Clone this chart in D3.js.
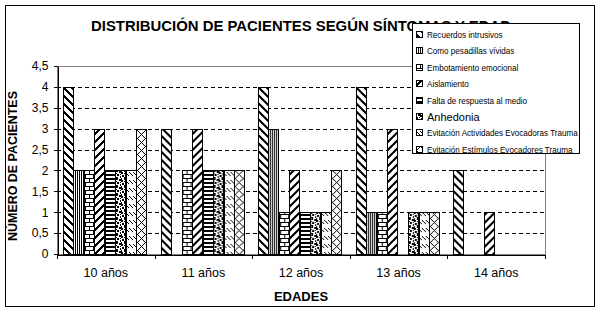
<!DOCTYPE html>
<html>
<head>
<meta charset="utf-8">
<script src="https://cdn.jsdelivr.net/npm/d3@7/dist/d3.min.js"></script>
<style>
  body { margin: 0; background: #fff; }
  svg { display: block; font-family: "Liberation Sans", Arial, sans-serif; }
</style>
</head>
<body>
<div id="chart"></div>
<script>
// Data
const ages = ['10 años', '11 años', '12 años', '13 años', '14 años'];
const symptoms = [
  'Recuerdos intrusivos',
  'Como pesadillas vívidas',
  'Embotamiento emocional',
  'Aislamiento',
  'Falta de respuesta al medio',
  'Anhedonia',
  'Evitación Actividades Evocadoras Trauma',
  'Evitación Estímulos Evocadores Trauma'
];
const recuerdos = [4, 3, 4, 4, 2];
const pesadillas = [2, 0, 3, 1, 0];
const embotamiento = [2, 2, 1, 1, 0];
const aislamiento = [3, 3, 2, 3, 1];
const faltaRespuesta = [2, 2, 1, 0, 0];
const anhedonia = [2, 2, 1, 1, 0];
const evitActividades = [2, 2, 1, 1, 0];
const evitEstimulos = [3, 2, 2, 1, 0];
const yTicks = [0, 0.5, 1, 1.5, 2, 2.5, 3, 3.5, 4, 4.5];

const seriesValues = [recuerdos, pesadillas, embotamiento, aislamiento,
  faltaRespuesta, anhedonia, evitActividades, evitEstimulos];

// 8x8 monochrome fill patterns, one per series
const bitmaps = [
  ['###.....', '.###....', '..###...', '...###..', '....###.', '.....###', '#.....##', '##.....#'],
  ['#.#.#.#.', '#.#.#.#.', '#.#.#.#.', '#.#.#.#.', '#.#.#.#.', '#.#.#.#.', '#.#.#.#.', '#.#.#.#.'],
  ['########', '#.......', '#.......', '#.......', '########', '....#...', '....#...', '....#...'],
  ['###.....', '##.....#', '#.....##', '.....###', '....###.', '...###..', '..###...', '.###....'],
  ['########', '########', '........', '........', '########', '########', '........', '........'],
  ['#..##...', '#..##.##', '##....##', '##.#....', '....##.#', '.##.##..', '.##....#', '...##..#'],
  ['........', '........', '#...#...', '.#...#..', '..#...#.', '...#...#', '........', '........'],
  ['#.......', '.#.....#', '..#...#.', '...#.#..', '....#...', '...#.#..', '..#...#.', '.#.....#']
];

const W = 600, H = 312;
const margin = { top: 66, right: 55, bottom: 58, left: 57 };
const width = W - margin.left - margin.right;
const height = H - margin.top - margin.bottom;

const svg = d3.select('#chart')
  .append('svg')
  .attr('width', W)
  .attr('height', H);

// Patterns
const defs = svg.append('defs');
bitmaps.forEach((rows, i) => {
  const p = defs.append('pattern')
    .attr('id', 'pat' + i)
    .attr('patternUnits', 'userSpaceOnUse')
    .attr('width', 8)
    .attr('height', 8);
  p.append('rect').attr('width', 8).attr('height', 8).attr('fill', '#fff');
  rows.forEach((row, r) => {
    row.split('').forEach((ch, c) => {
      if (ch === '#') {
        p.append('rect').attr('x', c).attr('y', r).attr('width', 1).attr('height', 1).attr('fill', '#000');
      }
    });
  });
});

// Outer chart border
svg.append('rect')
  .attr('x', 5.5)
  .attr('y', 5.5)
  .attr('width', 589)
  .attr('height', 301)
  .attr('fill', '#fff')
  .attr('stroke', '#000')
  .attr('stroke-width', 1);

const g = svg.append('g')
  .attr('transform', `translate(${margin.left},${margin.top})`);

// Scales
const x0 = d3.scaleBand()
  .domain(ages)
  .range([0, width])
  .padding(0);

const bw = x0.bandwidth();
const x1 = d3.scaleBand()
  .domain(symptoms)
  .range([bw * 0.06, bw * 0.92]);

const y = d3.scaleLinear()
  .domain([0, 4.5])
  .range([height, 0]);

// Dashed gridlines
g.selectAll('.grid')
  .data(yTicks.filter(t => t > 0 && t < 4.5))
  .join('line')
  .attr('class', 'grid')
  .attr('x1', 0)
  .attr('x2', width)
  .attr('y1', d => Math.round(y(d)) + 0.5)
  .attr('y2', d => Math.round(y(d)) + 0.5)
  .attr('stroke', '#000')
  .attr('stroke-dasharray', '4,3')
  .attr('shape-rendering', 'crispEdges');

// Plot area border (grey)
g.append('rect')
  .attr('x', 0.5)
  .attr('y', Math.round(y(4.5)) + 0.5)
  .attr('width', width)
  .attr('height', Math.round(y(0)) - Math.round(y(4.5)))
  .attr('fill', 'none')
  .attr('stroke', '#808080')
  .attr('shape-rendering', 'crispEdges');

// Bars
const groups = g.selectAll('.age')
  .data(ages)
  .join('g')
  .attr('class', 'age')
  .attr('transform', d => `translate(${x0(d)},0)`);

groups.selectAll('rect')
  .data((d, gi) => symptoms.map((s, si) => ({ s, si, v: seriesValues[si][gi] })).filter(b => b.v > 0))
  .join('rect')
  .attr('x', d => Math.round(x1(d.s)) + 0.5)
  .attr('y', d => Math.round(y(d.v)) + 0.5)
  .attr('width', Math.round(x1.bandwidth()))
  .attr('height', d => Math.round(y(0)) - Math.round(y(d.v)))
  .attr('fill', d => `url(#pat${d.si})`)
  .attr('stroke', '#000')
  .attr('shape-rendering', 'crispEdges');

// Y axis
const yAxis = g.append('g')
  .attr('transform', 'translate(0.5,0)')
  .call(d3.axisLeft(y).tickValues(yTicks).tickSize(4).tickSizeOuter(0)
    .tickFormat(d => String(d).replace('.', ',')));
yAxis.selectAll('text')
  .attr('x', -9)
  .style('font-size', '12px')
  .style('font-family', '"Liberation Sans", Arial, sans-serif');
yAxis.selectAll('line, path').attr('shape-rendering', 'crispEdges');

// X axis: line, ticks at category boundaries, centred labels
const xAxis = g.append('g')
  .attr('transform', `translate(0,${Math.round(y(0)) + 0.5})`)
  .call(d3.axisBottom(x0).tickSize(0).tickSizeOuter(0));
xAxis.select('.domain').attr('stroke', '#000').attr('shape-rendering', 'crispEdges');
xAxis.selectAll('text')
  .attr('dy', '1.55em')
  .style('font-size', '12.5px')
  .style('font-family', '"Liberation Sans", Arial, sans-serif');

xAxis.selectAll('.bound')
  .data(ages.concat(['end']))
  .join('line')
  .attr('class', 'bound')
  .attr('x1', d => Math.round(d === 'end' ? width : x0(d)) + 0.5)
  .attr('x2', d => Math.round(d === 'end' ? width : x0(d)) + 0.5)
  .attr('y1', 0)
  .attr('y2', 4)
  .attr('stroke', '#000')
  .attr('shape-rendering', 'crispEdges');

// Axis titles
svg.append('text')
  .attr('x', 301)
  .attr('y', 31)
  .attr('text-anchor', 'middle')
  .attr('textLength', 420)
  .attr('lengthAdjust', 'spacingAndGlyphs')
  .style('font-size', '14px')
  .style('font-weight', 'bold')
  .text('DISTRIBUCIÓN DE PACIENTES SEGÚN SÍNTOMAS Y EDAD');

svg.append('text')
  .attr('transform', 'translate(17,166) rotate(-90)')
  .attr('text-anchor', 'middle')
  .attr('textLength', 150)
  .attr('lengthAdjust', 'spacingAndGlyphs')
  .style('font-size', '13px')
  .style('font-weight', 'bold')
  .text('NÚMERO DE PACIENTES');

svg.append('text')
  .attr('x', margin.left + width / 2)
  .attr('y', 301)
  .attr('text-anchor', 'middle')
  .style('font-size', '13px')
  .style('font-weight', 'bold')
  .text('EDADES');

// Legend (sits on top of the end of the title, as in the original)
const legend = svg.append('g')
  .attr('transform', 'translate(412,23)');

legend.append('rect')
  .attr('x', 0.5)
  .attr('y', 0.5)
  .attr('width', 167)
  .attr('height', 130)
  .attr('fill', '#fff')
  .attr('stroke', '#000')
  .attr('shape-rendering', 'crispEdges');

const item = legend.selectAll('.item')
  .data(symptoms)
  .join('g')
  .attr('class', 'item')
  .attr('transform', (d, i) => `translate(0,${Math.round(8 + i * 16.4)})`);

item.append('rect')
  .attr('x', 4.5)
  .attr('y', 0.5)
  .attr('width', 6)
  .attr('height', 6)
  .attr('fill', (d, i) => `url(#pat${i})`)
  .attr('stroke', '#000')
  .attr('shape-rendering', 'crispEdges');

item.append('text')
  .attr('x', 15)
  .attr('y', (d, i) => i === 5 ? 8 : 7)
  .style('font-size', (d, i) => i === 5 ? '11px' : '9px')
  .text(d => d)
  .each(function (d, i) {
    if (i !== 5) {
      const len = this.getComputedTextLength();
      d3.select(this).attr('textLength', len * 0.9).attr('lengthAdjust', 'spacingAndGlyphs');
    }
  });
</script>
</body>
</html>
